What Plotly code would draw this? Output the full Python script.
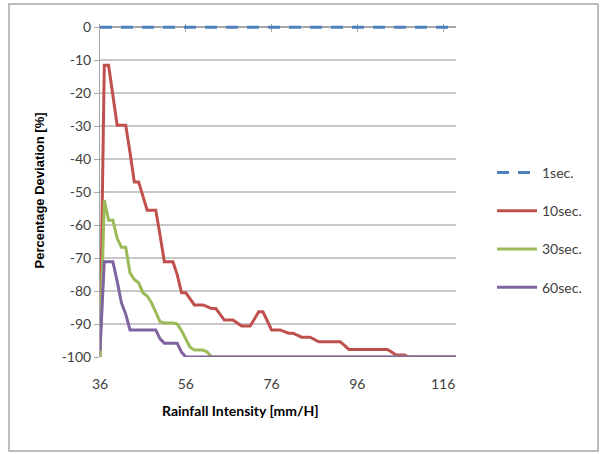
import plotly.graph_objects as go

# Rainfall intensity categories [mm/H]
x_vals = list(range(36, 120))

# Percentage deviation [%], one value per category (36..119)
sec1 = [0] * 84

sec10 = [-100, -11.5, -11.5, -20, -29.7, -29.7, -29.7, -38, -46.9, -46.9,
         -51, -55.5, -55.5, -55.5, -63, -71.1, -71.1, -71.1, -75, -80.5,
         -80.5, -82.5, -84.2, -84.2, -84.2, -84.7, -85.3, -85.3, -87, -88.8,
         -88.8, -88.8, -89.7, -90.6, -90.6, -90.6, -88.5, -86.3, -86.3, -89,
         -91.8, -91.8, -91.8, -92.3, -92.8, -92.8, -93.4, -94, -94, -94,
         -94.7, -95.4, -95.4, -95.4, -95.4, -95.4, -95.4, -96.5, -97.7, -97.7,
         -97.7, -97.7, -97.7, -97.7, -97.7, -97.7, -97.7, -97.7, -98.5, -99.4,
         -99.4, -99.4, -100, -100, -100, -100, -100, -100, -100, -100,
         -100, -100, -100, -100]

sec30 = [-100, -52.4, -58.5, -58.5, -64, -66.7, -66.7, -74.5, -76.5, -77.5,
         -80.5, -81.5, -83.5, -86.5, -89.3, -89.7, -89.7, -89.7, -90, -92,
         -94.5, -97, -97.9, -97.9, -97.9, -98.5] + [-100] * 58

sec60 = [-98, -71.1, -71.1, -71.1, -77, -83.6, -87, -91.8, -91.8, -91.8,
         -91.8, -91.8, -91.8, -91.8, -94.5, -95.8, -95.8, -95.8, -95.8, -98.5] + [-100] * 64

series = [
    ("1sec.", sec1, "#4f81bd", "12px,9px"),
    ("10sec.", sec10, "#c0504d", "solid"),
    ("30sec.", sec30, "#9bbb59", "solid"),
    ("60sec.", sec60, "#8064a2", "solid"),
]

y_ticks = list(range(-100, 1, 10))
y_tick_text = [str(v) for v in y_ticks]
x_tick_vals = [36, 56, 76, 96, 116]
x_tick_text = ["36", "56", "76", "96", "116"]

fig = go.Figure()
for i, (name, ys, color, dash) in enumerate(series):
    fig.add_trace(go.Scatter(
        x=x_vals, y=ys, name=name, mode="lines",
        line=dict(color=color, width=3, dash=dash),
        legendgroup=str(i),
    ))

W, H = 601, 454
L, R, T, B = 100, 145, 24, 97
pw, ph = W - L - R, H - T - B

def px(xp):
    return (xp - L) / pw

def py(yp):
    return 1 - (yp - T) / ph

calib = "Lato, Carlito, Calibri, sans-serif"

fig.update_layout(
    width=W, height=H,
    margin=dict(l=L, r=R, t=T, b=B, autoexpand=False),
    paper_bgcolor="white", plot_bgcolor="white",
    font=dict(family=calib, size=13, color="#404040"),
    showlegend=True,
    legend=dict(
        x=px(492), y=py(157), xanchor="left", yanchor="top",
        font=dict(family=calib, size=14, color="#404040"),
        tracegroupgap=17, itemwidth=40, bgcolor="rgba(0,0,0,0)",
    ),
    xaxis=dict(
        range=[36, 119], showgrid=False, zeroline=False, showline=False,
        automargin=False,
        tickmode="array", tickvals=x_tick_vals, ticktext=x_tick_text,
        ticks="outside", ticklen=14, tickcolor="rgba(0,0,0,0)",
        tickfont=dict(family=calib, size=14, color="#404040"),
    ),
    xaxis2=dict(
        range=[36, 119], overlaying="x", side="top", anchor="y",
        automargin=False, layer="below traces",
        showgrid=False, zeroline=False, showline=False,
        tickmode="array", tickvals=x_tick_vals[1:],
        ticks="inside", ticklen=8, tickcolor="#a6a6a6", showticklabels=False,
    ),
    yaxis=dict(
        range=[-100, 1], tickmode="array", tickvals=y_ticks, ticktext=y_tick_text,
        automargin=False, layer="below traces",
        showgrid=True, gridcolor="#c8c8c8", gridwidth=1.5,
        zeroline=True, zerolinecolor="#a6a6a6", zerolinewidth=1.5,
        showline=True, linecolor="#a6a6a6", linewidth=1,
        ticks="outside", ticklen=5, tickcolor="#a6a6a6",
        tickfont=dict(family=calib, size=14, color="#404040"),
        title=dict(text="<b>Percentage Deviation [%]</b>",
                   font=dict(family="Liberation Sans, Arial, sans-serif", size=13, color="#000000"),
                   standoff=14),
    ),
    annotations=[dict(
        text="<b>Rainfall Intensity [mm/H]</b>", xref="paper", yref="paper",
        x=px(240), y=py(410), xanchor="center", yanchor="middle", showarrow=False,
        font=dict(family=calib, size=14, color="#000000"),
    )],
    shapes=[dict(
        type="rect", xref="paper", yref="paper",
        x0=px(9), x1=px(598), y0=py(451), y1=py(4),
        line=dict(color="#a6a6a6", width=1.5), fillcolor="rgba(0,0,0,0)", layer="below",
    )],
)
# invisible helper trace so the top axis ticks are rendered
fig.add_trace(go.Scatter(x=[36], y=[0], xaxis="x2", mode="markers",
                         marker=dict(opacity=0), showlegend=False, hoverinfo="skip"))

fig.write_html("out.html", config={"displayModeBar": False},
               post_script="document.body.style.margin='0';document.body.style.padding='0';")
